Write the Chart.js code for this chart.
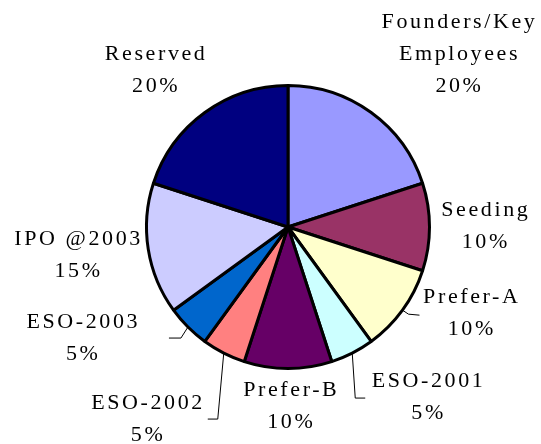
<!DOCTYPE html>
<html>
<head>
<meta charset="utf-8">
<script src="https://cdn.jsdelivr.net/npm/chart.js@4.4.0/dist/chart.umd.min.js"></script>
<style>
  html, body { margin: 0; padding: 0; background: #fff; }
  #wrap { width: 541px; height: 444px; }
</style>
</head>
<body>
<div id="wrap"><canvas id="myChart" width="541" height="444"></canvas></div>
<script>
// slices go clockwise from 12 o'clock
var categories = [
  ['Founders/Key', 'Employees'],
  ['Seeding'],
  ['Prefer-A'],
  ['ESO-2001'],
  ['Prefer-B'],
  ['ESO-2002'],
  ['ESO-2003'],
  ['IPO @2003'],
  ['Reserved']
];
var shares = [20, 10, 10, 5, 10, 5, 5, 15, 20];
var sliceColors = ['#9999FF', '#993366', '#FFFFCC', '#CCFFFF', '#660066',
                   '#FF8080', '#0066CC', '#CCCCFF', '#000080'];

// where each label sits relative to the edge of its slice (px)
var labelShift = [[87, -58], [55, -1], [68, 3], [75, 44], [2, 38],
                  [-77, 66], [-106, 11], [-71, 6], [-50, -42]];
// leader lines: elbow and end, relative to the slice edge
var leaders = {
  2: [[6, 4], [17, 5]],
  3: [[3, 45], [13, 45]],
  5: [[-6, 66], [-16, 66]],
  6: [[-7, 11], [-19, 11]]
};

var pieLabels = {
  id: 'pieLabels',
  afterDraw: function (chart) {
    var ctx = chart.ctx;
    var arcs = chart.getDatasetMeta(0).data;
    ctx.save();
    ctx.font = '22px "Liberation Serif", "Times New Roman", serif';
    ctx.fillStyle = '#000';
    ctx.textAlign = 'center';
    ctx.textBaseline = 'middle';
    var sp = 2.6;
    if ('letterSpacing' in ctx) ctx.letterSpacing = sp + 'px'; else sp = 0;
    var lineH = 32;

    arcs.forEach(function (arc, i) {
      var p = arc.getProps(['x', 'y', 'startAngle', 'endAngle', 'outerRadius'], true);
      var mid = (p.startAngle + p.endAngle) / 2;
      var ex = p.x + Math.cos(mid) * p.outerRadius;
      var ey = p.y + Math.sin(mid) * p.outerRadius;

      if (leaders[i]) {
        ctx.strokeStyle = '#000';
        ctx.lineWidth = 1;
        ctx.beginPath();
        ctx.moveTo(ex, ey);
        ctx.lineTo(ex + leaders[i][0][0], ey + leaders[i][0][1]);
        ctx.lineTo(ex + leaders[i][1][0], ey + leaders[i][1][1]);
        ctx.stroke();
      }

      var lines = categories[i].concat([shares[i] + '%']);
      var cx = ex + labelShift[i][0] + sp / 2;
      var cy = ey + labelShift[i][1] - (lines.length - 1) * lineH / 2;
      lines.forEach(function (t, k) {
        ctx.fillText(t, cx, cy + k * lineH);
      });
    });
    ctx.restore();
  }
};

var myChart = new Chart(document.getElementById('myChart'), {
  type: 'pie',
  data: {
    labels: categories,
    datasets: [{
      data: shares,
      backgroundColor: sliceColors,
      borderColor: '#000',
      borderWidth: 3,
      hoverOffset: 0
    }]
  },
  options: {
    responsive: false,
    animation: false,
    layout: { padding: { left: 145, right: 110, top: 84, bottom: 74 } },
    plugins: {
      legend: { display: false },
      tooltip: { enabled: false }
    }
  },
  plugins: [pieLabels]
});
</script>
</body>
</html>
